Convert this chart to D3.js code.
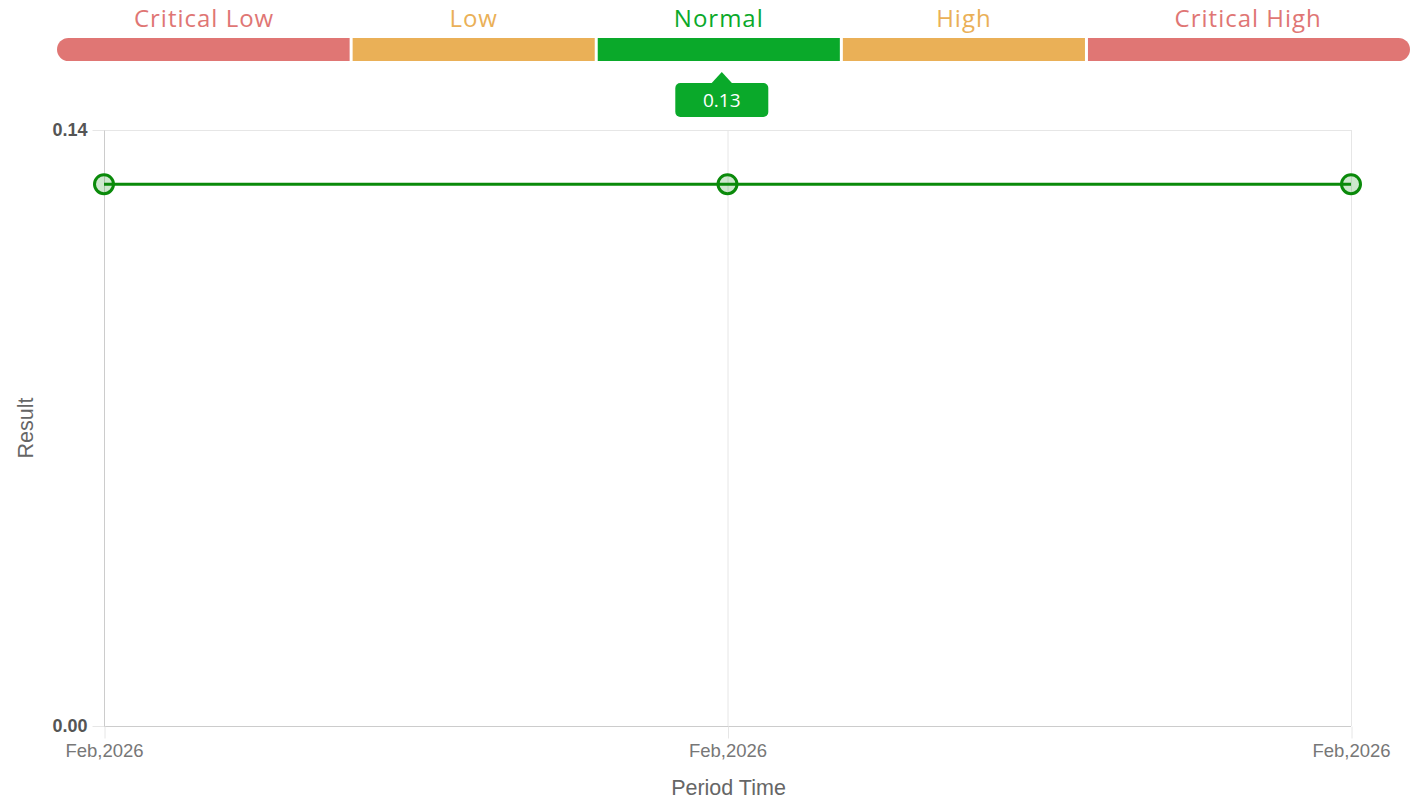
<!DOCTYPE html>
<html>
<head>
<meta charset="utf-8">
<script src="https://cdn.jsdelivr.net/npm/d3@7"></script>
<style>
  html, body { margin: 0; padding: 0; background: #fff; }
  svg { display: block; }
</style>
</head>
<body>
<svg id="chart" width="1421" height="803"></svg>
<script>
// Reference range bands (label, relative width, colour)
const rangeLabels = ["Critical Low", "Low", "Normal", "High", "Critical High"];
const rangeWeights = [1.2, 1.0, 1.0, 1.0, 1.32];
const rangeColors = ["#e07674", "#eab057", "#0aa92a", "#eab057", "#e07674"];
const currentRange = "Normal";
const currentValue = 0.13;

// Result history
const periods = ["p1", "p2", "p3"];
const periodLabels = ["Feb,2026", "Feb,2026", "Feb,2026"];
const results = [0.13, 0.13, 0.13];
const yMax = 0.143;
const yTicks = [0, 0.143];

const svg = d3.select("#chart");

// ---- range bar ----
const barLeft = 57, barRight = 1410, barTop = 38, barH = 23, gap = 3;
const total = d3.sum(rangeWeights);
const cum = d3.cumsum(rangeWeights);
const bx = d3.scaleLinear().domain([0, total]).range([barLeft, barRight]);
const segs = rangeLabels.map((l, i) => ({
  label: l, color: rangeColors[i],
  x0: bx(i === 0 ? 0 : cum[i - 1]), x1: bx(cum[i]), i
}));

const clipId = "barClip";
svg.append("defs").append("clipPath").attr("id", clipId)
  .append("rect").attr("x", barLeft).attr("y", barTop)
  .attr("width", barRight - barLeft).attr("height", barH)
  .attr("rx", barH / 2).attr("ry", barH / 2);

const barG = svg.append("g").attr("clip-path", `url(#${clipId})`);
barG.selectAll("rect").data(segs).join("rect")
  .attr("x", d => d.x0 + (d.i === 0 ? 0 : gap / 2))
  .attr("y", barTop)
  .attr("width", d => d.x1 - d.x0 - (d.i === 0 ? gap / 2 : d.i === segs.length - 1 ? gap / 2 : gap))
  .attr("height", barH)
  .attr("fill", d => d.color);

svg.selectAll("text.range").data(segs).join("text")
  .attr("class", "range")
  .attr("x", d => (d.x0 + d.x1) / 2)
  .attr("y", 27)
  .attr("text-anchor", "middle")
  .attr("font-family", "'Open Sans', Lato, sans-serif")
  .attr("font-size", 24)
  .attr("letter-spacing", 1)
  .attr("fill", d => d.color)
  .text(d => d.label);

// ---- value badge ----
const cur = segs.find(s => s.label === currentRange);
const cx = (cur.x0 + cur.x1) / 2 + 3;
const badgeW = 93, badgeH = 34, badgeTop = 83;
const badge = svg.append("g");
badge.append("path")
  .attr("d", `M${cx - 11},${badgeTop + 1} L${cx},${badgeTop - 11} L${cx + 11},${badgeTop + 1} Z`)
  .attr("fill", cur.color);
badge.append("rect")
  .attr("x", cx - badgeW / 2).attr("y", badgeTop)
  .attr("width", badgeW).attr("height", badgeH)
  .attr("rx", 5).attr("fill", cur.color);
badge.append("text")
  .attr("x", cx).attr("y", badgeTop + badgeH / 2 + 7)
  .attr("text-anchor", "middle")
  .attr("font-family", "'Open Sans', Lato, sans-serif")
  .attr("font-size", 19)
  .attr("fill", "#fff")
  .text(d3.format(".2f")(currentValue));

// ---- line chart ----
const m = { left: 104, right: 1351, top: 130, bottom: 726 };
const x = d3.scalePoint().domain(periods).range([m.left, m.right]);
const y = d3.scaleLinear().domain([0, yMax]).range([m.bottom, m.top]);

const grid = svg.append("g");
grid.selectAll("line.h").data(yTicks).join("line")
  .attr("x1", m.left).attr("x2", m.right)
  .attr("y1", d => y(d) + 0.5).attr("y2", d => y(d) + 0.5)
  .attr("stroke", "#e6e6e6");
grid.selectAll("line.v").data(periods).join("line")
  .attr("x1", d => x(d) + 0.5).attr("x2", d => x(d) + 0.5)
  .attr("y1", m.top).attr("y2", m.bottom)
  .attr("stroke", "#e6e6e6");

// y axis
const yAxis = svg.append("g")
  .attr("transform", `translate(${m.left + 0.5},0)`)
  .call(d3.axisLeft(y).tickValues(yTicks).tickFormat(d3.format(".2f")).tickSize(12).tickPadding(5));
yAxis.select(".domain").attr("stroke", "#cccccc").attr("d", `M0,${m.top}V${m.bottom}`);
yAxis.selectAll(".tick line").attr("stroke", "#e6e6e6");
yAxis.selectAll(".tick text")
  .attr("font-family", "'Liberation Sans', Arial, sans-serif")
  .attr("font-size", 18).attr("font-weight", "bold").attr("fill", "#555");

// x axis
const xAxis = svg.append("g")
  .attr("transform", `translate(0,${m.bottom + 0.5})`)
  .call(d3.axisBottom(x).tickFormat((d, i) => periodLabels[i]).tickSize(12).tickPadding(5));
xAxis.select(".domain").attr("stroke", "#cccccc").attr("d", `M${m.left},0H${m.right}`);
xAxis.selectAll(".tick line").attr("stroke", "#e6e6e6").attr("transform", "translate(0.5,0)");
xAxis.selectAll(".tick text")
  .attr("font-family", "'Liberation Sans', Arial, sans-serif")
  .attr("font-size", 18.5).attr("fill", "#777");

// axis titles
svg.append("text")
  .attr("x", (m.left + m.right) / 2 + 1).attr("y", 795)
  .attr("text-anchor", "middle")
  .attr("font-family", "'Liberation Sans', Arial, sans-serif")
  .attr("font-size", 21.5).attr("fill", "#666")
  .text("Period Time");
svg.append("text")
  .attr("transform", `translate(33,${(m.top + m.bottom) / 2}) rotate(-90)`)
  .attr("text-anchor", "middle")
  .attr("font-family", "'Liberation Sans', Arial, sans-serif")
  .attr("font-size", 21.5).attr("fill", "#666")
  .text("Result");

// series line and markers
const line = d3.line().x((d, i) => x(periods[i])).y(d => y(d));
svg.append("path").datum(results)
  .attr("d", line).attr("fill", "none")
  .attr("stroke", "#0a8a0a").attr("stroke-width", 3);
svg.selectAll("circle.pt").data(results).join("circle")
  .attr("class", "pt")
  .attr("cx", (d, i) => x(periods[i])).attr("cy", d => y(d))
  .attr("r", 9.5)
  .attr("fill", "rgba(10,138,10,0.2)")
  .attr("stroke", "#0a8a0a").attr("stroke-width", 3);
</script>
</body>
</html>
